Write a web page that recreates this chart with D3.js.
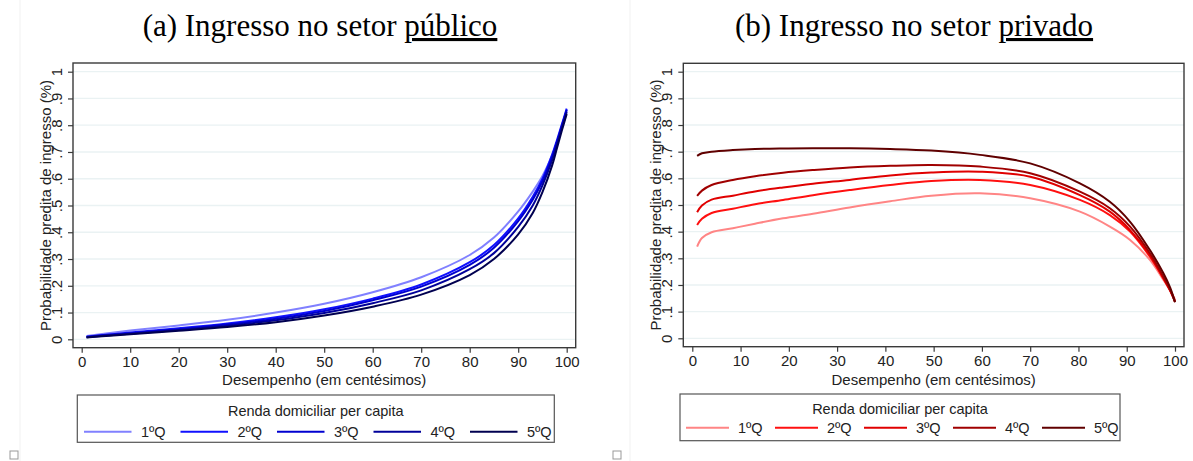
<!DOCTYPE html>
<html>
<head>
<meta charset="utf-8">
<script src="https://cdn.jsdelivr.net/npm/d3@7"></script>
<style>
  body { margin: 0; background: #fff; }
  svg { display: block; }
  .tick text { font-family: "Liberation Sans", Arial, sans-serif; }
</style>
</head>
<body>
<svg id="chart" width="1193" height="461"></svg>
<script>
// ---- data ----
var quintis = ["1ºQ", "2ºQ", "3ºQ", "4ºQ", "5ºQ"];
var yTicks = [0, .1, .2, .3, .4, .5, .6, .7, .8, .9, 1];
var yTickLabels = ["0", ".1", ".2", ".3", ".4", ".5", ".6", ".7", ".8", ".9", "1"];
var xTicks = [0, 10, 20, 30, 40, 50, 60, 70, 80, 90, 100];

// setor público
var xPub = [1, 5, 10, 20, 30, 40, 50, 60, 70, 80, 85, 90, 93, 95, 97, 98, 99, 100];
var pubQ1 = [0.012, 0.022, 0.033, 0.052, 0.073, 0.100, 0.133, 0.176, 0.232, 0.315, 0.380, 0.478, 0.552, 0.610, 0.688, 0.738, 0.795, 0.857];
var pubQ2 = [0.010, 0.017, 0.025, 0.041, 0.059, 0.082, 0.112, 0.152, 0.205, 0.288, 0.352, 0.452, 0.533, 0.600, 0.690, 0.745, 0.803, 0.862];
var pubQ3 = [0.009, 0.016, 0.023, 0.038, 0.055, 0.077, 0.106, 0.146, 0.197, 0.278, 0.342, 0.442, 0.522, 0.590, 0.682, 0.738, 0.798, 0.857];
var pubQ4 = [0.008, 0.014, 0.021, 0.035, 0.051, 0.071, 0.098, 0.135, 0.183, 0.262, 0.322, 0.420, 0.500, 0.575, 0.670, 0.730, 0.790, 0.850];
var pubQ5 = [0.007, 0.012, 0.019, 0.032, 0.046, 0.064, 0.089, 0.122, 0.167, 0.240, 0.300, 0.392, 0.472, 0.550, 0.650, 0.715, 0.780, 0.842];

// setor privado
var xPriv = [1, 2, 4, 8.4, 13, 18.8, 25, 32.6, 41, 49.5, 59.6, 70, 80.3, 86.5, 90.7, 94.8, 97.6, 99, 100];
var privQ1 = [0.344, 0.376, 0.398, 0.413, 0.430, 0.450, 0.467, 0.491, 0.514, 0.535, 0.544, 0.525, 0.475, 0.419, 0.369, 0.294, 0.219, 0.180, 0.145];
var privQ2 = [0.425, 0.448, 0.470, 0.486, 0.503, 0.519, 0.537, 0.556, 0.575, 0.590, 0.594, 0.575, 0.519, 0.462, 0.400, 0.306, 0.225, 0.180, 0.140];
var privQ3 = [0.473, 0.498, 0.520, 0.535, 0.551, 0.566, 0.580, 0.594, 0.611, 0.622, 0.625, 0.606, 0.537, 0.475, 0.406, 0.312, 0.225, 0.178, 0.137];
var privQ4 = [0.534, 0.554, 0.575, 0.594, 0.608, 0.621, 0.631, 0.641, 0.647, 0.650, 0.644, 0.619, 0.550, 0.488, 0.419, 0.319, 0.231, 0.182, 0.137];
var privQ5 = [0.684, 0.694, 0.700, 0.706, 0.710, 0.712, 0.713, 0.713, 0.710, 0.704, 0.688, 0.656, 0.581, 0.512, 0.437, 0.331, 0.244, 0.190, 0.135];

var coresPub = ["#8080ff", "#1010ff", "#0000d0", "#00009a", "#000050"];
var coresPriv = ["#ff8585", "#ff1010", "#e00000", "#a00000", "#600000"];

var svg = d3.select("#chart");
var sans = "'Liberation Sans', Arial, sans-serif";

// faint page edges like in the source image
[[20, 590], [630, 1193]].forEach(function (e) {
    svg.append("line").attr("x1", e[0]).attr("x2", e[0]).attr("y1", 0).attr("y2", 461)
        .attr("stroke", "#f1f1f1");
});
[14, 617].forEach(function (x) {
    svg.append("rect").attr("x", x - 4).attr("y", 451).attr("width", 8).attr("height", 8)
        .attr("fill", "#fff").attr("stroke", "#999").attr("stroke-width", 1);
});

function drawPanel(cfg) {
    var g = svg.append("g");
    var x = d3.scaleLinear().domain([0, 100]).range(cfg.xRange);
    var y = d3.scaleLinear().domain([0, 1]).range(cfg.yRange);

    // title
    var t = g.append("text")
        .attr("x", cfg.titleX).attr("y", 36)
        .attr("text-anchor", "middle")
        .style("font-family", "'Liberation Serif', 'Times New Roman', serif")
        .style("font-size", "31px")
        .attr("fill", "#000");
    t.append("tspan").text(cfg.title);
    t.append("tspan").style("text-decoration", "underline").text(cfg.titleU);

    // grid
    g.selectAll(".grid").data(yTicks).enter()
        .append("line")
        .attr("x1", cfg.frame[0]).attr("x2", cfg.frame[1])
        .attr("y1", d => y(d)).attr("y2", d => y(d))
        .attr("stroke", "#eaf2f3").attr("stroke-width", 1.3);

    // curves
    var line = d3.line()
        .x((d, i) => x(cfg.xs[i]))
        .y(d => y(d))
        .curve(d3.curveCatmullRom.alpha(0.5));
    cfg.series.forEach(function (s, i) {
        g.append("path").datum(s)
            .attr("d", line)
            .attr("fill", "none")
            .attr("stroke", cfg.colors[i])
            .attr("stroke-width", 2);
    });

    // frame
    g.append("rect")
        .attr("x", cfg.frame[0]).attr("y", cfg.frame[2])
        .attr("width", cfg.frame[1] - cfg.frame[0])
        .attr("height", cfg.frame[3] - cfg.frame[2])
        .attr("fill", "none").attr("stroke", "#3a3a3a").attr("stroke-width", 1.4);

    // axes
    var xAxis = d3.axisBottom(x).tickValues(xTicks).tickSize(5).tickPadding(4);
    var gx = g.append("g").attr("transform", "translate(0," + cfg.frame[3] + ")").call(xAxis);
    gx.select(".domain").remove();
    gx.selectAll(".tick line").attr("stroke", "#3a3a3a").attr("stroke-width", 1.2);
    gx.selectAll(".tick text").style("font-size", "15px").attr("fill", "#222");

    var yAxis = d3.axisLeft(y).tickValues(yTicks)
        .tickFormat((d, i) => yTickLabels[i]).tickSize(5).tickPadding(0);
    var gy = g.append("g").attr("transform", "translate(" + cfg.frame[0] + ",0)").call(yAxis);
    gy.select(".domain").remove();
    gy.selectAll(".tick line").attr("stroke", "#3a3a3a").attr("stroke-width", 1.2);
    gy.selectAll(".tick text")
        .attr("x", 0).attr("dy", null)
        .attr("transform", "translate(" + (cfg.yLabX - cfg.frame[0]) + ",0) rotate(-90)")
        .attr("text-anchor", "middle")
        .attr("dominant-baseline", "central")
        .style("font-size", "15px").attr("fill", "#222");

    // axis titles
    g.append("text")
        .attr("x", (cfg.xRange[0] + cfg.xRange[1]) / 2).attr("y", 385)
        .attr("text-anchor", "middle")
        .style("font-family", sans).style("font-size", "15px").attr("fill", "#222")
        .text("Desempenho (em centésimos)");
    g.append("text")
        .attr("transform", "translate(" + cfg.yTitleX + "," + ((cfg.yRange[0] + cfg.yRange[1]) / 2) + ") rotate(-90)")
        .attr("text-anchor", "middle")
        .attr("dominant-baseline", "central")
        .style("font-family", sans).style("font-size", "15px").attr("fill", "#222")
        .text("Probabilidade predita de ingresso (%)");

    // legend
    var L = cfg.legend;
    g.append("rect")
        .attr("x", L.x0).attr("y", L.y0)
        .attr("width", L.x1 - L.x0).attr("height", L.y1 - L.y0)
        .attr("fill", "#fff").attr("stroke", "#555").attr("stroke-width", 1.2);
    g.append("text")
        .attr("x", (L.x0 + L.x1) / 2).attr("y", L.titleY)
        .attr("text-anchor", "middle").attr("dominant-baseline", "central")
        .style("font-family", sans).style("font-size", "14.5px").attr("fill", "#222")
        .text("Renda domiciliar per capita");
    quintis.forEach(function (q, i) {
        var kx = L.keyX + i * L.step;
        g.append("line")
            .attr("x1", kx).attr("x2", kx + L.keyW)
            .attr("y1", L.itemY).attr("y2", L.itemY)
            .attr("stroke", cfg.colors[i]).attr("stroke-width", 2);
        g.append("text")
            .attr("x", kx + L.labOff).attr("y", L.itemY)
            .attr("dominant-baseline", "central")
            .style("font-family", sans).style("font-size", "14.5px").attr("fill", "#222")
            .text(q);
    });
}

drawPanel({
    title: "(a) Ingresso no setor ", titleU: "público", titleX: 320,
    xRange: [81.7, 566.7], yRange: [339.3, 71.7],
    frame: [73, 575.7, 63, 347.7],
    yLabX: 56.5, yTitleX: 45,
    xs: xPub,
    series: [pubQ1, pubQ2, pubQ3, pubQ4, pubQ5],
    colors: coresPub,
    legend: { x0: 77.3, x1: 554.3, y0: 395, y1: 442.3, titleY: 411, itemY: 431.7,
              keyX: 84, step: 96.5, keyW: 47.5, labOff: 57 }
});

drawPanel({
    title: "(b) Ingresso no setor ", titleU: "privado", titleX: 914,
    xRange: [692.3, 1175], yRange: [338.3, 71.7],
    frame: [683.3, 1184, 63.3, 346.7],
    yLabX: 666.7, yTitleX: 655,
    xs: xPriv,
    series: [privQ1, privQ2, privQ3, privQ4, privQ5],
    colors: coresPriv,
    legend: { x0: 680, x1: 1120, y0: 394, y1: 440.7, titleY: 409, itemY: 427.7,
              keyX: 686, step: 89, keyW: 43, labOff: 52 }
});
</script>
</body>
</html>
